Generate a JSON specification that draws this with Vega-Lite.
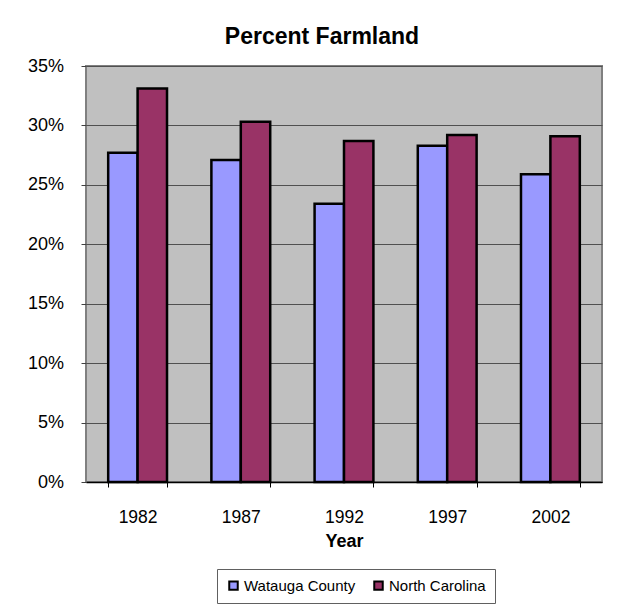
{
  "$schema": "https://vega.github.io/schema/vega-lite/v6.json",
  "autosize": {"type": "none"},
  "padding": {"left": 86, "top": 66, "right": 19, "bottom": 123},
  "width": 516,
  "height": 416,
  "background": "#ffffff",
  "title": {
    "text": "Percent Farmland",
    "anchor": "middle",
    "frame": "group",
    "orient": "top",
    "offset": -10,
    "baseline": "alphabetic",
    "dx": -22,
    "font": "Liberation Sans",
    "fontSize": 23,
    "fontWeight": "bold",
    "color": "#000000"
  },
  "config": {
    "view": {"fill": "#c0c0c0", "stroke": "#808080", "strokeWidth": 2},
    "font": "Liberation Sans"
  },
  "data": {
    "values": [
      {"year": "1982", "region": "Watauga County", "pct": 0.277},
      {"year": "1982", "region": "North Carolina", "pct": 0.331},
      {"year": "1987", "region": "Watauga County", "pct": 0.271},
      {"year": "1987", "region": "North Carolina", "pct": 0.303},
      {"year": "1992", "region": "Watauga County", "pct": 0.234},
      {"year": "1992", "region": "North Carolina", "pct": 0.287},
      {"year": "1997", "region": "Watauga County", "pct": 0.283},
      {"year": "1997", "region": "North Carolina", "pct": 0.292},
      {"year": "2002", "region": "Watauga County", "pct": 0.259},
      {"year": "2002", "region": "North Carolina", "pct": 0.291}
    ]
  },
  "mark": {"type": "bar", "stroke": "#000000", "strokeWidth": 2.5},
  "encoding": {
    "x": {
      "field": "year",
      "type": "nominal",
      "scale": {"paddingInner": 0.43, "paddingOuter": 0.215},
      "axis": {
        "title": "Year",
        "labelAngle": 0,
        "tickBand": "extent",
        "tickSize": 5,
        "tickColor": "#000000",
        "domainColor": "#000000",
        "domainWidth": 1.5,
        "labelPadding": 21,
        "labelFontSize": 17.5,
        "labelColor": "#000000",
        "labelFont": "Liberation Sans",
        "titleFont": "Liberation Sans",
        "titleFontSize": 18,
        "titleFontWeight": "bold",
        "titleColor": "#000000",
        "titleBaseline": "alphabetic",
        "titleY": 64
      }
    },
    "xOffset": {
      "field": "region",
      "type": "nominal",
      "sort": ["Watauga County", "North Carolina"],
      "scale": {"paddingInner": 0, "paddingOuter": 0}
    },
    "y": {
      "field": "pct",
      "type": "quantitative",
      "scale": {"domain": [0, 0.35], "nice": false},
      "axis": {
        "title": null,
        "format": ".0%",
        "values": [0, 0.05, 0.1, 0.15, 0.2, 0.25, 0.3, 0.35],
        "grid": true,
        "gridColor": "#505050",
        "gridWidth": 1,
        "domain": false,
        "tickSize": 5,
        "tickColor": "#404040",
        "labelPadding": 17.5,
        "labelFontSize": 18,
        "labelColor": "#000000",
        "labelFont": "Liberation Sans"
      }
    },
    "color": {
      "field": "region",
      "type": "nominal",
      "sort": ["Watauga County", "North Carolina"],
      "scale": {"domain": ["Watauga County", "North Carolina"], "range": ["#9999ff", "#993366"]},
      "legend": {
        "title": null,
        "orient": "none",
        "legendX": 131,
        "legendY": 503,
        "direction": "horizontal",
        "symbolType": "square",
        "symbolSize": 72,
        "symbolStrokeColor": "#000000",
        "symbolStrokeWidth": 2,
        "labelFontSize": 15,
        "labelFont": "Liberation Sans",
        "labelColor": "#000000",
        "labelOffset": 3,
        "columnPadding": 14,
        "padding": 9,
        "strokeColor": "#606060",
        "fillColor": "#ffffff"
      }
    }
  }
}
